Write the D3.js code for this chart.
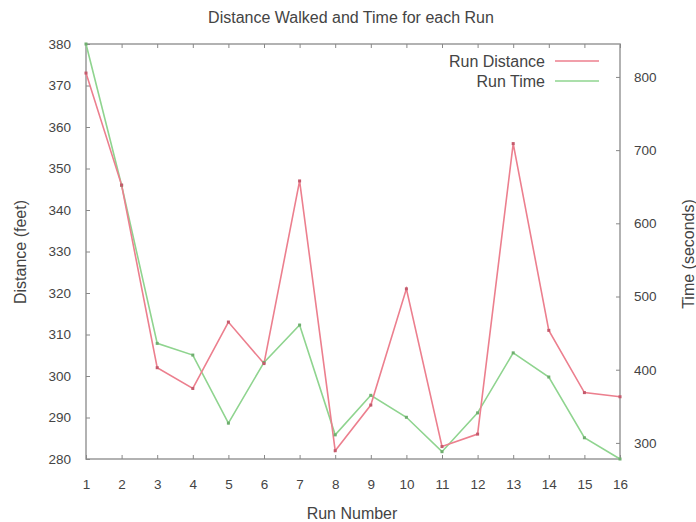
<!DOCTYPE html>
<html><head><meta charset="utf-8">
<script src="https://cdn.jsdelivr.net/npm/d3@7"></script>
<style>
html,body{margin:0;padding:0;background:#fff;}
text{font-family:"Liberation Sans",Arial,sans-serif;fill:#444;}
</style></head>
<body><svg id="c" width="696" height="522"></svg>
<script>
const runs = [1,2,3,4,5,6,7,8,9,10,11,12,13,14,15,16];
const distance = [373,346,302,297,313,303,347,282,293,321,283,286,356,311,296,295];
const time = [845,652,436,420,327,410,461,311,365,335,288,341,423,390,307,278];
const distTicks = [280,290,300,310,320,330,340,350,360,370,380];
const timeTicks = [300,400,500,600,700,800];
const title = "Distance Walked and Time for each Run";
const xLabel = "Run Number";
const yLabel = "Distance (feet)";
const y2Label = "Time (seconds)";
const seriesNames = ["Run Distance","Run Time"];

const L=86,R=620,T=44,B=459;
const svg=d3.select("#c");
const x=d3.scaleLinear().domain([1,16]).range([L,R]);
const y=d3.scaleLinear().domain([280,380]).range([B,T]);
const y2=d3.scaleLinear().domain([278,845]).range([B,T]);
const red="#ec7f8e", green="#8fd48f";
const tickFont="13.5px", labFont="16px";

svg.append("rect").attr("x",L).attr("y",T).attr("width",R-L).attr("height",B-T)
  .attr("fill","none").attr("stroke","#999").attr("stroke-width",1.5);

const axStyle=g=>{g.select(".domain").remove();g.selectAll("line").attr("stroke","#888");
  g.selectAll("text").attr("fill","#444").style("font-size",tickFont).style("font-family","Liberation Sans, Arial, sans-serif");};
svg.append("g").attr("transform",`translate(0,${B})`)
  .call(d3.axisBottom(x).tickValues(runs).tickFormat(d3.format("d")).tickSizeInner(-4).tickSizeOuter(0).tickPadding(20)).call(axStyle);
svg.append("g").attr("transform",`translate(0,${T})`)
  .call(d3.axisTop(x).tickValues(runs).tickFormat("").tickSizeInner(-4).tickSizeOuter(0)).call(axStyle);
svg.append("g").attr("transform",`translate(${L},0)`)
  .call(d3.axisLeft(y).tickValues(distTicks).tickSizeInner(-4).tickSizeOuter(0).tickPadding(15)).call(axStyle);
svg.append("g").attr("transform",`translate(${R},0)`)
  .call(d3.axisRight(y2).tickValues(timeTicks).tickSizeInner(-4).tickSizeOuter(0).tickPadding(14)).call(axStyle);

const ld=d3.line().x((d,i)=>x(runs[i])).y(d=>y(d));
const lt=d3.line().x((d,i)=>x(runs[i])).y(d=>y2(d));
svg.append("path").datum(time).attr("d",lt).attr("fill","none").attr("stroke",green).attr("stroke-width",1.6);
svg.append("path").datum(distance).attr("d",ld).attr("fill","none").attr("stroke",red).attr("stroke-width",1.6);
svg.selectAll(".pt").data(time).enter().append("rect")
  .attr("x",(d,i)=>x(runs[i])-1.5).attr("y",d=>y2(d)-1.5).attr("width",3).attr("height",3).attr("fill","#6fae6f");
svg.selectAll(".pd").data(distance).enter().append("rect")
  .attr("x",(d,i)=>x(runs[i])-1.5).attr("y",d=>y(d)-1.5).attr("width",3).attr("height",3).attr("fill","#c45a6c");

const leg=[[seriesNames[0],red],[seriesNames[1],green]];
leg.forEach((s,i)=>{
  const ly=61+i*20;
  svg.append("text").attr("x",545).attr("y",ly+6).attr("text-anchor","end").style("font-size",labFont).text(s[0]);
  svg.append("line").attr("x1",555).attr("x2",599).attr("y1",ly).attr("y2",ly).attr("stroke",s[1]).attr("stroke-width",1.6);
});

svg.append("text").attr("x",351).attr("y",23).attr("text-anchor","middle").style("font-size",labFont).text(title);
svg.append("text").attr("x",352).attr("y",519).attr("text-anchor","middle").style("font-size",labFont).text(xLabel);
svg.append("text").attr("transform","translate(26,252) rotate(-90)").attr("text-anchor","middle").style("font-size",labFont).text(yLabel);
svg.append("text").attr("transform","translate(694,254) rotate(-90)").attr("text-anchor","middle").style("font-size",labFont).text(y2Label);
</script></body></html>
